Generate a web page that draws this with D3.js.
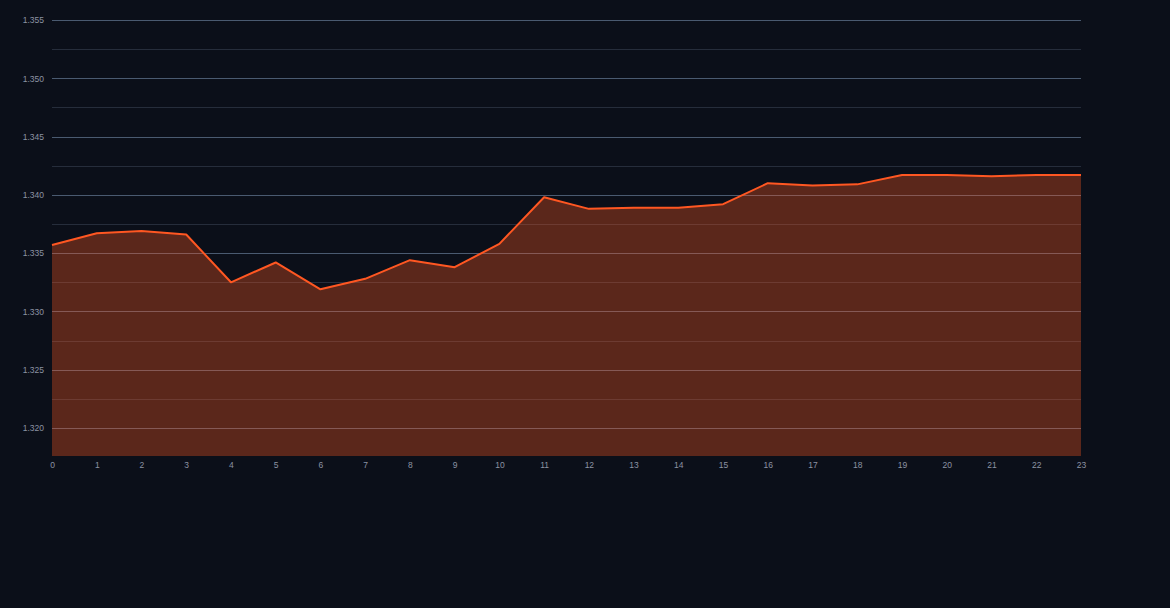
<!DOCTYPE html>
<html><head><meta charset="utf-8">
<script src="https://cdn.jsdelivr.net/npm/d3@7"></script>
<style>html,body{margin:0;padding:0;background:#0b0f19;}svg{display:block;}</style>
</head><body>
<svg id="c" width="1170" height="608"></svg>
<script>
const hours = [0,1,2,3,4,5,6,7,8,9,10,11,12,13,14,15,16,17,18,19,20,21,22,23];
const values = [1.3357,1.3367,1.3369,1.3366,1.3325,1.3342,1.3319,1.3328,1.3344,1.3338,1.3358,1.3398,1.3388,1.3389,1.3389,1.3392,1.3410,1.3408,1.3409,1.3417,1.3417,1.3416,1.3417,1.3417];
const yTicks = [1.320,1.325,1.330,1.335,1.340,1.345,1.350,1.355];
const yMinor = [1.3225,1.3275,1.3325,1.3375,1.3425,1.3475,1.3525];

const svg = d3.select('#c');
const x = d3.scaleLinear().domain([0,23]).range([52,1081]);
const y = d3.scaleLinear().domain([1.3176,1.355]).range([456,20]);

const data = hours.map((h,i)=>({h, v: values[i]}));

svg.append('g').selectAll('line').data(yMinor).join('line')
  .attr('x1',52).attr('x2',1081).attr('y1',d=>Math.round(y(d))+0.5).attr('y2',d=>Math.round(y(d))+0.5)
  .attr('stroke','#262d3b').attr('stroke-width',1);
svg.append('g').selectAll('line').data(yTicks).join('line')
  .attr('x1',52).attr('x2',1081).attr('y1',d=>Math.round(y(d))+0.5).attr('y2',d=>Math.round(y(d))+0.5)
  .attr('stroke','#4a5a70').attr('stroke-width',1);

svg.append('path').datum(data)
  .attr('d', d3.area().x(d=>x(d.h)).y0(y.range()[0]).y1(d=>y(d.v)))
  .attr('fill','rgba(255,87,34,0.33)');

svg.append('path').datum(data)
  .attr('d', d3.line().x(d=>x(d.h)).y(d=>y(d.v)))
  .attr('fill','none').attr('stroke','#ff5722').attr('stroke-width',2).attr('stroke-linejoin','round');

const yAxis = d3.axisLeft(y).tickValues(yTicks).tickFormat(d3.format('.3f')).tickSize(0).tickPadding(8);
const gy = svg.append('g').attr('transform','translate(52,0)').call(yAxis);
gy.select('.domain').remove();
gy.selectAll('text').attr('fill','#8b93a3').style('font-family','Liberation Sans, Arial, sans-serif').style('font-size','8.5px');

const xAxis = d3.axisBottom(x).tickValues(hours).tickFormat(d3.format('d')).tickSize(0).tickPadding(6);
const gx = svg.append('g').attr('transform','translate(0,456)').call(xAxis);
gx.select('.domain').remove();
gx.selectAll('text').attr('fill','#8b93a3').style('font-family','Liberation Sans, Arial, sans-serif').style('font-size','8.5px');
</script>
</body></html>
